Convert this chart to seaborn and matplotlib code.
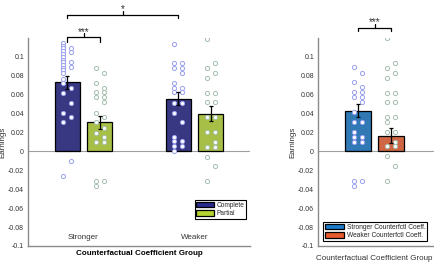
import numpy as np
import pandas as pd
import matplotlib
matplotlib.use("Agg")
import matplotlib.pyplot as plt
import seaborn as sns
from matplotlib.patches import Patch

# ---------------- data ----------------
groups = ["Stronger", "Weaker"]
conditions = ["Complete", "Partial"]
complete_means = [0.073, 0.056]
complete_sem = [0.007, 0.007]
partial_means = [0.031, 0.040]
partial_sem = [0.007, 0.008]

right_labels = ["Stronger Counterfctl Coeff.", "Weaker Counterfctl Coeff."]
right_means = [0.043, 0.0165]
right_sem = [0.0068, 0.008]

# individual points (two columns per bar: a = left column, b = right column)
sc_a = [0.1147, 0.1119, 0.109, 0.1063, 0.1032, 0.1003, 0.0972, 0.0943, 0.0916,
        0.0884, 0.0859, 0.0827, 0.0768, 0.0722, 0.0621, 0.041, 0.0312, -0.026]
sc_b = [0.109, 0.1055, 0.0943, 0.0895, 0.0674, 0.0516, 0.0361, -0.0105]
sp_a = [0.088, 0.0725, 0.0624, 0.0575, 0.041, 0.031, 0.020, 0.010, -0.031, -0.0365]
sp_b = [0.0827, 0.0674, 0.0624, 0.0575, 0.0522, 0.0364, 0.025, 0.015, 0.010, -0.031]
wc_a = [0.1137, 0.0933, 0.088, 0.0722, 0.0674, 0.0624, 0.0516, 0.041, 0.0154,
        0.0108, 0.0056, 0.0]
wc_b = [0.0933, 0.088, 0.0827, 0.0674, 0.0624, 0.0516, 0.031, 0.0108, 0.0056]
wp_a = [0.119, 0.088, 0.0775, 0.0621, 0.0522, 0.036, 0.0206, 0.0048, -0.0057, -0.031]
wp_b = [0.0933, 0.0827, 0.0621, 0.0522, 0.036, 0.0206, 0.0101, 0.0048, -0.0155]
rs_a = [0.0888, 0.073, 0.0625, 0.0572, 0.0418, 0.0313, 0.0207, 0.0155, 0.0102,
        -0.0316, -0.0364]
rs_b = [0.0832, 0.0678, 0.0625, 0.0572, 0.052, 0.0313, 0.0155, 0.0102, -0.0316]
rw_a = [0.1205, 0.0884, 0.0779, 0.0623, 0.0522, 0.0365, 0.0313, 0.021, 0.0055,
        -0.0053, -0.0316]
rw_b = [0.094, 0.0832, 0.0623, 0.0522, 0.0365, 0.021, 0.010, 0.0055, -0.0158]

yticks = [-0.1, -0.08, -0.06, -0.04, -0.02, 0, 0.02, 0.04, 0.06, 0.08, 0.1]
ytick_labels = ["-0.1", "-0.08", "-0.06", "-0.04", "-0.02", "0",
                "0.02", "0.04", "0.06", "0.08", "0.1"]

# ---------------- style ----------------
sns.set_style("white")
plt.rcParams["font.family"] = ["Liberation Sans", "DejaVu Sans"]
navy = "#2a2a8e"
lime = "#b5d333"
blue = "#1a7bcb"
orange = "#e85a2b"
dot_blue = "#9aa0ee"
dot_green = "#a5bfae"
spine_col = "#8a8a8a"
txt_col = "#333333"

fig = plt.figure(figsize=(4.34, 2.64), dpi=100)
axL = fig.add_axes([28 / 434, 1 - 246 / 264, 222 / 434, 208 / 264])
axR = fig.add_axes([318 / 434, 1 - 246 / 264, 120 / 434, 208 / 264])

# ---------------- left panel ----------------
df_left = pd.DataFrame({
    "group": groups * 2,
    "cond": [conditions[0]] * 2 + [conditions[1]] * 2,
    "earn": complete_means + partial_means,
})
sns.barplot(data=df_left, x="group", y="earn", hue="cond", order=groups,
            hue_order=conditions, palette=[navy, lime], width=0.58, gap=0.22,
            edgecolor="black", linewidth=0.9, errorbar=None, legend=False,
            ax=axL, zorder=2)

pts_left = [[(sc_a, sc_b), (wc_a, wc_b)], [(sp_a, sp_b), (wp_a, wp_b)]]
sems_left = [complete_sem, partial_sem]
dot_cols_left = [dot_blue, dot_green]
off = 0.036
for cont, sems, pts, dc in zip(axL.containers, sems_left, pts_left, dot_cols_left):
    for bar, e, (pa, pb) in zip(cont, sems, pts):
        xc = bar.get_x() + bar.get_width() / 2
        xs = [xc - off] * len(pa) + [xc + off] * len(pb)
        sns.scatterplot(x=xs, y=list(pa) + list(pb), color="white", edgecolor=dc,
                        linewidth=0.7, s=9, ax=axL, zorder=4, legend=False)
        axL.errorbar(xc, bar.get_height(), yerr=e, color="black", capsize=1.6,
                     lw=0.9, capthick=0.9, zorder=5)

axL.axhline(0, color="#a0a0a0", lw=0.8, zorder=1)
axL.set_xlim(-0.5, 1.5)
axL.set_ylim(-0.1, 0.12)
axL.set_yticks(yticks)
axL.set_yticklabels(ytick_labels)
axL.set_xticks([0, 1])
axL.set_xticklabels(groups)
axL.tick_params(axis="y", length=0, pad=2.8, labelsize=5, labelcolor=txt_col)
axL.tick_params(axis="x", length=0, pad=-8.5, labelsize=5.8, labelcolor=txt_col)
axL.set_xlabel("Counterfactual Coefficient Group", fontsize=5.8,
               fontweight="bold", labelpad=3, color="black")
axL.set_ylabel("Earnings", fontsize=5.8, labelpad=1, color=txt_col)

leg = axL.legend(handles=[Patch(facecolor=navy, edgecolor="black", lw=0.9),
                          Patch(facecolor=lime, edgecolor="black", lw=0.9)],
                 labels=conditions, loc="lower right",
                 bbox_to_anchor=(0.982, 0.13), borderaxespad=0, fontsize=4.7,
                 fancybox=False, handlelength=2.7, handleheight=0.9,
                 handletextpad=0.4, borderpad=0.25, labelspacing=0.2,
                 framealpha=1)
leg.get_frame().set_edgecolor("black")
leg.get_frame().set_linewidth(0.8)

# brackets
def bracket(ax, x0, x1, y, drop, stem, label, ty, fs=7.2):
    xm = (x0 + x1) / 2
    ax.plot([x0, x0, x1, x1], [y - drop, y, y, y - drop], color="black",
            lw=0.9, clip_on=False, zorder=6)
    ax.plot([xm, xm], [y, y + stem], color="black", lw=0.9, clip_on=False,
            zorder=6)
    ax.text(xm, ty, label, ha="center", va="center", fontsize=fs,
            color=txt_col, clip_on=False)

b0 = axL.containers[0][0]
b1 = axL.containers[0][1]
p0 = axL.containers[1][0]
cx = lambda b: b.get_x() + b.get_width() / 2
bracket(axL, cx(b0), cx(b1), 0.1446, 0.0039, 0.0039, "*", 0.151)
bracket(axL, cx(b0), cx(p0), 0.1213, 0.0053, 0.0044, "***", 0.1265)

for s in ["top", "right"]:
    axL.spines[s].set_visible(False)
for s in ["left", "bottom"]:
    axL.spines[s].set_color(spine_col)
    axL.spines[s].set_linewidth(1.0)

# ---------------- right panel ----------------
df_right = pd.DataFrame({"label": right_labels, "earn": right_means})
sns.barplot(data=df_right, x="label", y="earn", hue="label", order=right_labels,
            hue_order=right_labels, palette=[blue, orange], width=0.79,
            edgecolor="black", linewidth=0.9, errorbar=None, legend=False,
            ax=axR, zorder=2)

pts_right = [(rs_a, rs_b), (rw_a, rw_b)]
dot_cols_right = [dot_blue, dot_green]
bars_r = sorted(axR.patches, key=lambda b: b.get_x())
offr = 0.12
for bar, e, (pa, pb), dc in zip(bars_r, right_sem, pts_right, dot_cols_right):
    xc = bar.get_x() + bar.get_width() / 2
    xs = [xc - offr] * len(pa) + [xc + offr] * len(pb)
    sns.scatterplot(x=xs, y=list(pa) + list(pb), color="white", edgecolor=dc,
                    linewidth=0.7, s=9, ax=axR, zorder=4, legend=False)
    axR.errorbar(xc, bar.get_height(), yerr=e, color="black", capsize=1.6,
                 lw=0.9, capthick=0.9, zorder=5)

axR.axhline(0, color="#a0a0a0", lw=0.8, zorder=1)
axR.set_xlim(-1.21, 2.42)
axR.set_ylim(-0.1, 0.12)
axR.set_yticks(yticks)
axR.set_yticklabels(ytick_labels)
axR.set_xticks([])
axR.tick_params(axis="y", length=0, pad=2.8, labelsize=5, labelcolor=txt_col)
axR.set_xlabel("Counterfactual Coefficient Group", fontsize=5.8, color=txt_col)
axR.xaxis.set_label_coords(0.47, -0.045)
axR.set_ylabel("Earnings", fontsize=5.8, labelpad=1, color=txt_col)

legR = axR.legend(handles=[Patch(facecolor=blue, edgecolor="black", lw=0.9),
                           Patch(facecolor=orange, edgecolor="black", lw=0.9)],
                  labels=right_labels, loc="lower left",
                  bbox_to_anchor=(0.042, 0.024), borderaxespad=0, fontsize=4.8,
                  fancybox=False, handlelength=2.9, handleheight=0.9,
                  handletextpad=0.4, borderpad=0.25, labelspacing=0.2,
                  framealpha=1)
legR.get_frame().set_edgecolor("black")
legR.get_frame().set_linewidth(0.8)

bracket(axR, cx(bars_r[0]), cx(bars_r[1]), 0.131, 0.0039, 0.0039, "***", 0.137)

for s in ["top", "right"]:
    axR.spines[s].set_visible(False)
for s in ["left", "bottom"]:
    axR.spines[s].set_color(spine_col)
    axR.spines[s].set_linewidth(1.0)

fig.savefig("out.png", dpi=100)
